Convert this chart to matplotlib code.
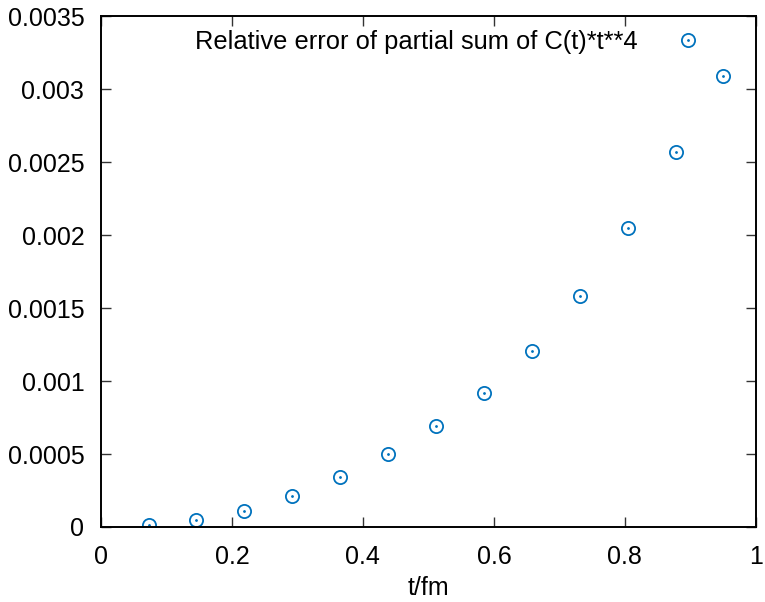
import matplotlib
matplotlib.use("Agg")
import matplotlib.pyplot as plt
from matplotlib.ticker import FuncFormatter, MultipleLocator

# Data
t_fm = [0.0728, 0.1455, 0.2183, 0.2916, 0.3649, 0.4382, 0.5115,
        0.5848, 0.6580, 0.7313, 0.8046, 0.8779, 0.9492]
rel_err = [1.6e-5, 4.6e-5, 1.12e-4, 2.14e-4, 3.45e-4, 5.02e-4, 6.92e-4,
           9.18e-4, 1.205e-3, 1.584e-3, 2.05e-3, 2.571e-3, 3.089e-3]
series_label = "Relative error of partial sum of C(t)*t**4"

plt.rcParams['font.family'] = ['Liberation Sans', 'DejaVu Sans']
plt.rcParams['font.size'] = 18

fig = plt.figure(figsize=(7.65, 6.02), dpi=100)
ax = fig.add_axes([0.132, 0.1246, 0.988 - 0.132, 0.973 - 0.1246])

blue = '#0072bd'
ring, = ax.plot(t_fm, rel_err, linestyle='none', marker='o', markersize=9.5,
                markerfacecolor='none', markeredgecolor=blue,
                markeredgewidth=1.3)
# centre dot of gnuplot point type
dot, = ax.plot(t_fm, rel_err, linestyle='none', marker='.', markersize=2,
               color=blue)

ax.set_xlim(0, 1)
ax.set_ylim(0, 0.0035)
ax.xaxis.set_major_locator(MultipleLocator(0.2))
ax.yaxis.set_major_locator(MultipleLocator(0.0005))
fmt = FuncFormatter(lambda v, p: '%g' % round(v, 8))
ax.xaxis.set_major_formatter(fmt)
ax.yaxis.set_major_formatter(fmt)

ax.tick_params(direction='in', length=7, width=1, color='#333333',
               top=True, right=True, labelsize=18)
ax.tick_params(axis='x', pad=13)
ax.tick_params(axis='y', pad=12)
for s in ax.spines.values():
    s.set_linewidth(1.4)

ax.set_xlabel('t/fm', fontsize=18, labelpad=5)

ax.legend([(ring, dot)], [series_label], loc='upper right', frameon=False,
          markerfirst=False, handlelength=1.5, handletextpad=1.2,
          borderaxespad=0.0, fontsize=18.4, bbox_to_anchor=(0.941, 0.993))

fig.savefig('out.png', dpi=100)
